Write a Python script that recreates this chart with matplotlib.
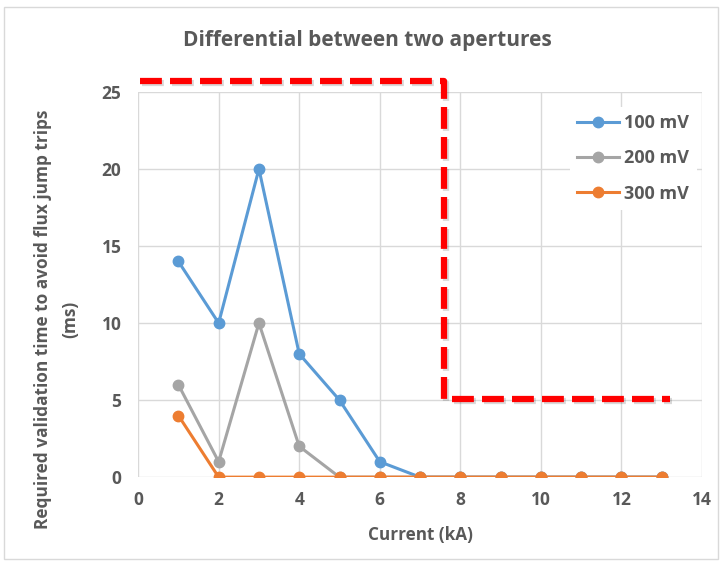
import matplotlib.pyplot as plt
from matplotlib.patches import Rectangle
import matplotlib.patheffects as pe

# Données
courant = [1, 2, 3, 4, 5, 6, 7, 8, 9, 10, 11, 12, 13]
mv100 = [14, 10, 20, 8, 5, 1, 0, 0, 0, 0, 0, 0, 0]
mv200 = [6, 1, 10, 2, 0, 0, 0, 0, 0, 0, 0, 0, 0]
mv300 = [4, 0, 0, 0, 0, 0, 0, 0, 0, 0, 0, 0, 0]
series = [("100 mV", mv100, "#5B9BD5"),
          ("200 mV", mv200, "#A5A5A5"),
          ("300 mV", mv300, "#ED7D31")]

# Contour rouge (forme dessinée à la main sur le graphique)
contour_x = [0.05, 7.6, 7.6, 13.2]
contour_y = [25.7, 25.7, 5.1, 5.1]

GRIS = "#595959"
plt.rcParams['font.family'] = ['Open Sans', 'DejaVu Sans']

fig = plt.figure(figsize=(7.23, 5.64), dpi=100)
fig.patches.append(Rectangle((4 / 723, 5 / 564), 714 / 723, 552 / 564,
                             transform=fig.transFigure, fill=False,
                             edgecolor="#D9D9D9", linewidth=1))
ax = fig.add_axes([0.191, 0.154, 0.780, 0.683])

for nom, vals, couleur in series:
    ax.plot(courant, vals, color=couleur, linewidth=2.2, marker="o",
            markersize=7.5, label=nom, zorder=3)

ax.plot(contour_x, contour_y, color="#FF0000", linewidth=4.5,
        linestyle=(0, (3.5, 1.3)), clip_on=False, zorder=5,
        path_effects=[pe.SimpleLineShadow(offset=(1.5, -1.5), alpha=0.15),
                      pe.Normal()])

ax.set_xlim(0, 14)
ax.set_ylim(0, 25)
ax.set_xticks(range(0, 15, 2))
ax.set_yticks(range(0, 26, 5))
ax.grid(True, color="#D9D9D9", linewidth=1)
ax.set_axisbelow(True)
for s in ax.spines.values():
    s.set_visible(False)
ax.tick_params(length=0, labelsize=12.5, labelcolor=GRIS)
ax.tick_params(axis="y", pad=12)
ax.tick_params(axis="x", pad=10)
for lab in ax.get_xticklabels() + ax.get_yticklabels():
    lab.set_fontweight("bold")

fig.text(0.508, 0.928, "Differential between two apertures", fontsize=15,
         fontweight="bold", color=GRIS, ha="center", va="center")
ax.set_xlabel("Current (kA)", fontsize=12.3, fontweight="bold", color=GRIS,
              labelpad=12)
fig.text(43 / 723, 1 - 319 / 564,
         "Required validation time to avoid flux jump trips", fontsize=12.4,
         fontweight="bold", color=GRIS, rotation=90, ha="center", va="center")
fig.text(70 / 723, 1 - 319 / 564, "(ms)", fontsize=12.4,
         fontweight="bold", color=GRIS, rotation=90, ha="center", va="center")

leg = ax.legend(loc="upper right", bbox_to_anchor=(1.0, 0.975), frameon=True,
                fontsize=13, handlelength=2.3, handletextpad=0.3,
                labelspacing=0.95, borderaxespad=0.3)
leg.get_frame().set_edgecolor("none")
leg.get_frame().set_facecolor("white")
leg.get_frame().set_alpha(1)
for t in leg.get_texts():
    t.set_color(GRIS)
    t.set_fontweight("bold")

fig.savefig("out.png", dpi=100)
